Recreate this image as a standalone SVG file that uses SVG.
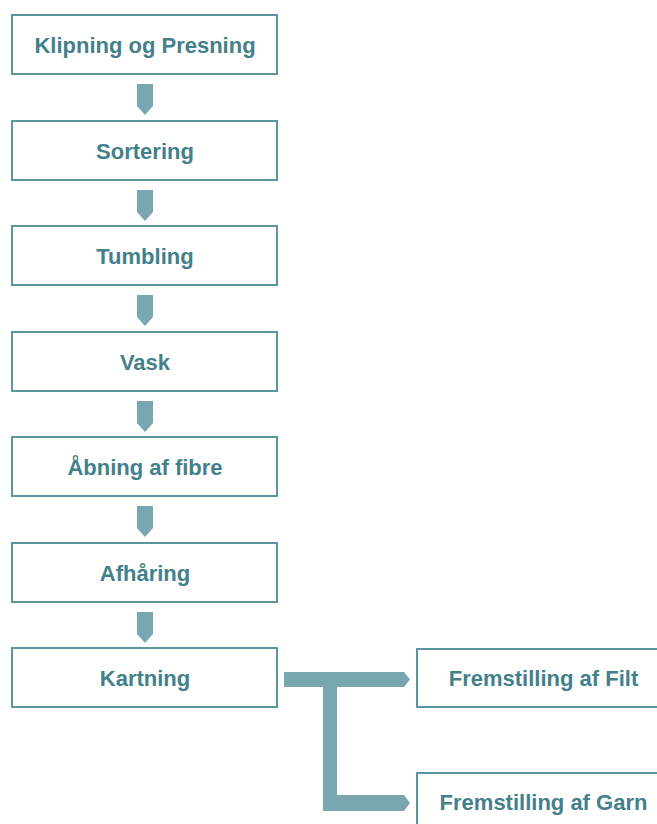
<svg xmlns="http://www.w3.org/2000/svg" width="657" height="824" viewBox="0 0 657 824">
<style>
.box{fill:#fff;stroke:#5b969f;stroke-width:2}
.lbl{font-family:"Liberation Sans",Arial,sans-serif;font-weight:bold;font-size:22px;fill:#438089;text-anchor:middle}
.arr{fill:#78a7b0}
</style>
<defs>
<path id="down" d="M-8,0 H8 V22 L0,31 L-8,22 Z"/>
</defs>
<rect width="657" height="824" fill="#fff"/>
<g id="n1"><rect class="box" x="12" y="15" width="265" height="59"/><text class="lbl" x="145" y="52.5">Klipning og Presning</text></g>
<g id="n2"><rect class="box" x="12" y="121" width="265" height="59"/><text class="lbl" x="145" y="158.5">Sortering</text></g>
<g id="n3"><rect class="box" x="12" y="226" width="265" height="59"/><text class="lbl" x="145" y="263.5">Tumbling</text></g>
<g id="n4"><rect class="box" x="12" y="332" width="265" height="59"/><text class="lbl" x="145" y="369.5">Vask</text></g>
<g id="n5"><rect class="box" x="12" y="437" width="265" height="59"/><text class="lbl" x="145" y="474.5">Åbning af fibre</text></g>
<g id="n6"><rect class="box" x="12" y="543" width="265" height="59"/><text class="lbl" x="145" y="580.5">Afhåring</text></g>
<g id="n7"><rect class="box" x="12" y="648" width="265" height="59"/><text class="lbl" x="145" y="685.5">Kartning</text></g>
<g id="n8"><rect class="box" x="417" y="649" width="265" height="58"/><text class="lbl" x="543.5" y="686">Fremstilling af Filt</text></g>
<g id="n9"><rect class="box" x="417" y="773" width="265" height="59"/><text class="lbl" x="543.5" y="810">Fremstilling af Garn</text></g>
<g id="connectors" class="arr">
<use href="#down" x="145" y="84"/>
<use href="#down" x="145" y="190"/>
<use href="#down" x="145" y="295"/>
<use href="#down" x="145" y="401"/>
<use href="#down" x="145" y="506"/>
<use href="#down" x="145" y="612"/>
<path d="M284,672 H404 L410,679.5 L404,687 H284 Z"/>
<path d="M323,672 H337 V811 H323 Z"/>
<path d="M323,795 H404 L410,803 L404,811 H323 Z"/>
</g>
</svg>
